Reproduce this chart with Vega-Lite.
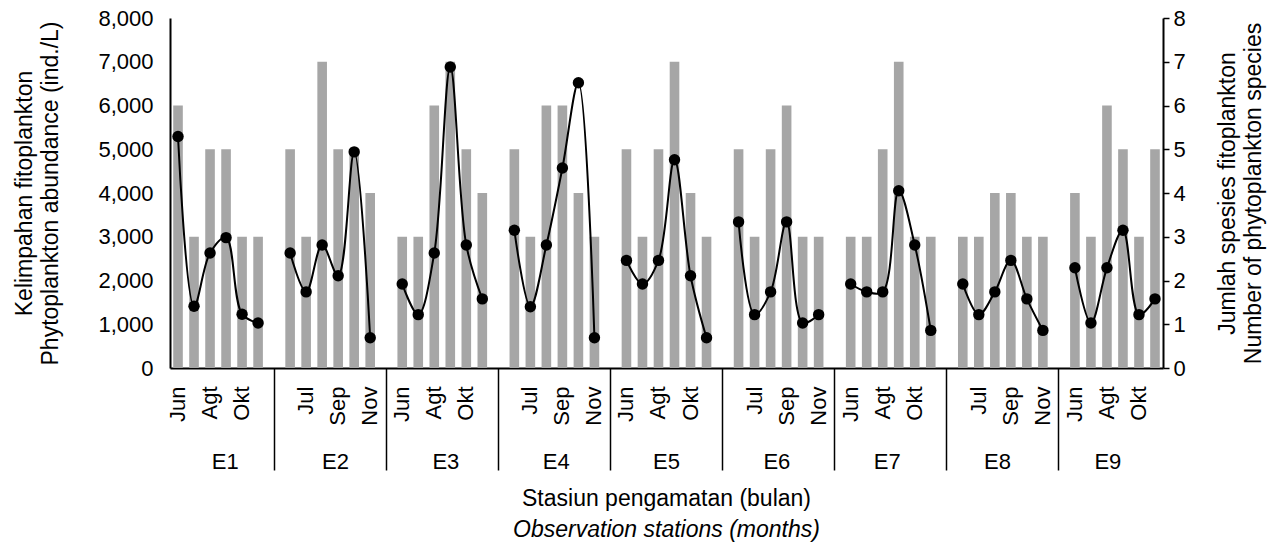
{
  "$schema": "https://vega.github.io/schema/vega-lite/v6.json",
  "width": 993,
  "height": 350,
  "autosize": {"type": "none"},
  "padding": {"left": 170, "top": 18, "right": 119, "bottom": 178},
  "background": "white",
  "config": {
    "font": "Liberation Sans",
    "view": {"stroke": null},
    "axis": {"labelColor": "black", "titleColor": "black", "labelFontSize": 22, "titleFontSize": 23, "titleFontWeight": "normal", "grid": false, "domainColor": "black", "tickColor": "black"}
  },
  "title": {
    "text": "Stasiun pengamatan (bulan)",
    "subtitle": "Observation stations (months)",
    "orient": "bottom",
    "anchor": "middle",
    "frame": "group",
    "fontSize": 23,
    "fontWeight": "normal",
    "color": "black",
    "subtitleFontSize": 23,
    "subtitleFontStyle": "italic",
    "subtitleColor": "black",
    "subtitlePadding": 8,
    "offset": 16
  },
  "data": {
    "values": [
      {"station": "E1", "month": "Jun", "slot": "E1 Jun", "species": 6, "abundance": 5290},
      {"station": "E1", "month": "Jul", "slot": "E1 Jul", "species": 3, "abundance": 1410},
      {"station": "E1", "month": "Agt", "slot": "E1 Agt", "species": 5, "abundance": 2630},
      {"station": "E1", "month": "Sep", "slot": "E1 Sep", "species": 5, "abundance": 2980},
      {"station": "E1", "month": "Okt", "slot": "E1 Okt", "species": 3, "abundance": 1230},
      {"station": "E1", "month": "Nov", "slot": "E1 Nov", "species": 3, "abundance": 1030},
      {"station": "E2", "month": "Jun", "slot": "E2 Jun", "species": 5, "abundance": 2630},
      {"station": "E2", "month": "Jul", "slot": "E2 Jul", "species": 3, "abundance": 1740},
      {"station": "E2", "month": "Agt", "slot": "E2 Agt", "species": 7, "abundance": 2810},
      {"station": "E2", "month": "Sep", "slot": "E2 Sep", "species": 5, "abundance": 2110},
      {"station": "E2", "month": "Okt", "slot": "E2 Okt", "species": 5, "abundance": 4940},
      {"station": "E2", "month": "Nov", "slot": "E2 Nov", "species": 4, "abundance": 690},
      {"station": "E3", "month": "Jun", "slot": "E3 Jun", "species": 3, "abundance": 1920},
      {"station": "E3", "month": "Jul", "slot": "E3 Jul", "species": 3, "abundance": 1220},
      {"station": "E3", "month": "Agt", "slot": "E3 Agt", "species": 6, "abundance": 2630},
      {"station": "E3", "month": "Sep", "slot": "E3 Sep", "species": 7, "abundance": 6880},
      {"station": "E3", "month": "Okt", "slot": "E3 Okt", "species": 5, "abundance": 2810},
      {"station": "E3", "month": "Nov", "slot": "E3 Nov", "species": 4, "abundance": 1580},
      {"station": "E4", "month": "Jun", "slot": "E4 Jun", "species": 5, "abundance": 3150},
      {"station": "E4", "month": "Jul", "slot": "E4 Jul", "species": 3, "abundance": 1400},
      {"station": "E4", "month": "Agt", "slot": "E4 Agt", "species": 6, "abundance": 2810},
      {"station": "E4", "month": "Sep", "slot": "E4 Sep", "species": 6, "abundance": 4570},
      {"station": "E4", "month": "Okt", "slot": "E4 Okt", "species": 4, "abundance": 6520},
      {"station": "E4", "month": "Nov", "slot": "E4 Nov", "species": 3, "abundance": 690},
      {"station": "E5", "month": "Jun", "slot": "E5 Jun", "species": 5, "abundance": 2460},
      {"station": "E5", "month": "Jul", "slot": "E5 Jul", "species": 3, "abundance": 1920},
      {"station": "E5", "month": "Agt", "slot": "E5 Agt", "species": 5, "abundance": 2460},
      {"station": "E5", "month": "Sep", "slot": "E5 Sep", "species": 7, "abundance": 4760},
      {"station": "E5", "month": "Okt", "slot": "E5 Okt", "species": 4, "abundance": 2110},
      {"station": "E5", "month": "Nov", "slot": "E5 Nov", "species": 3, "abundance": 690},
      {"station": "E6", "month": "Jun", "slot": "E6 Jun", "species": 5, "abundance": 3340},
      {"station": "E6", "month": "Jul", "slot": "E6 Jul", "species": 3, "abundance": 1220},
      {"station": "E6", "month": "Agt", "slot": "E6 Agt", "species": 5, "abundance": 1740},
      {"station": "E6", "month": "Sep", "slot": "E6 Sep", "species": 6, "abundance": 3340},
      {"station": "E6", "month": "Okt", "slot": "E6 Okt", "species": 3, "abundance": 1030},
      {"station": "E6", "month": "Nov", "slot": "E6 Nov", "species": 3, "abundance": 1220},
      {"station": "E7", "month": "Jun", "slot": "E7 Jun", "species": 3, "abundance": 1920},
      {"station": "E7", "month": "Jul", "slot": "E7 Jul", "species": 3, "abundance": 1740},
      {"station": "E7", "month": "Agt", "slot": "E7 Agt", "species": 5, "abundance": 1740},
      {"station": "E7", "month": "Sep", "slot": "E7 Sep", "species": 7, "abundance": 4050},
      {"station": "E7", "month": "Okt", "slot": "E7 Okt", "species": 3, "abundance": 2810},
      {"station": "E7", "month": "Nov", "slot": "E7 Nov", "species": 3, "abundance": 860},
      {"station": "E8", "month": "Jun", "slot": "E8 Jun", "species": 3, "abundance": 1920},
      {"station": "E8", "month": "Jul", "slot": "E8 Jul", "species": 3, "abundance": 1220},
      {"station": "E8", "month": "Agt", "slot": "E8 Agt", "species": 4, "abundance": 1740},
      {"station": "E8", "month": "Sep", "slot": "E8 Sep", "species": 4, "abundance": 2460},
      {"station": "E8", "month": "Okt", "slot": "E8 Okt", "species": 3, "abundance": 1580},
      {"station": "E8", "month": "Nov", "slot": "E8 Nov", "species": 3, "abundance": 860},
      {"station": "E9", "month": "Jun", "slot": "E9 Jun", "species": 4, "abundance": 2290},
      {"station": "E9", "month": "Jul", "slot": "E9 Jul", "species": 3, "abundance": 1030},
      {"station": "E9", "month": "Agt", "slot": "E9 Agt", "species": 6, "abundance": 2290},
      {"station": "E9", "month": "Sep", "slot": "E9 Sep", "species": 5, "abundance": 3150},
      {"station": "E9", "month": "Okt", "slot": "E9 Okt", "species": 3, "abundance": 1220},
      {"station": "E9", "month": "Nov", "slot": "E9 Nov", "species": 5, "abundance": 1580}
    ]
  },
  "layer": [
    {
      "mark": {"type": "bar", "color": "#a6a6a6"},
      "encoding": {
        "x": {
          "field": "slot",
          "type": "nominal",
          "scale": {
            "type": "band",
            "paddingInner": 0.4,
            "paddingOuter": 0.2,
            "domain": ["E1 Jun","E1 Jul","E1 Agt","E1 Sep","E1 Okt","E1 Nov","gap1","E2 Jun","E2 Jul","E2 Agt","E2 Sep","E2 Okt","E2 Nov","gap2","E3 Jun","E3 Jul","E3 Agt","E3 Sep","E3 Okt","E3 Nov","gap3","E4 Jun","E4 Jul","E4 Agt","E4 Sep","E4 Okt","E4 Nov","gap4","E5 Jun","E5 Jul","E5 Agt","E5 Sep","E5 Okt","E5 Nov","gap5","E6 Jun","E6 Jul","E6 Agt","E6 Sep","E6 Okt","E6 Nov","gap6","E7 Jun","E7 Jul","E7 Agt","E7 Sep","E7 Okt","E7 Nov","gap7","E8 Jun","E8 Jul","E8 Agt","E8 Sep","E8 Okt","E8 Nov","gap8","E9 Jun","E9 Jul","E9 Agt","E9 Sep","E9 Okt","E9 Nov"]
          },
          "axis": {
            "orient": "bottom",
            "title": null,
            "values": ["E1 Jun","E1 Agt","E1 Okt","gap1","E2 Jul","E2 Sep","E2 Nov","gap2","E3 Jun","E3 Agt","E3 Okt","gap3","E4 Jul","E4 Sep","E4 Nov","gap4","E5 Jun","E5 Agt","E5 Okt","gap5","E6 Jul","E6 Sep","E6 Nov","gap6","E7 Jun","E7 Agt","E7 Okt","gap7","E8 Jul","E8 Sep","E8 Nov","gap8","E9 Jun","E9 Agt","E9 Okt"],
            "labelExpr": "indexof(datum.value, 'gap') === 0 ? '' : split(datum.value, ' ')[1]",
            "labelAngle": -90,
            "labelFontSize": 22,
            "labelPadding": -84,
            "labelOverlap": false,
            "labelBound": false,
            "tickSize": 102,
            "tickWidth": 1.5,
            "tickColor": {"condition": {"test": "indexof(datum.value, 'gap') === 0", "value": "black"}, "value": "transparent"},
            "bandPosition": 0.5,
            "domainWidth": 2
          }
        },
        "y": {
          "field": "species",
          "type": "quantitative",
          "scale": {"domain": [0, 8], "nice": false},
          "axis": {
            "orient": "right",
            "values": [0, 1, 2, 3, 4, 5, 6, 7, 8],
            "title": ["Jumlah spesies fitoplankton", "Number of phytoplankton species"],
            "titleAngle": -90,
            "titleLineHeight": 26,
            "titlePadding": 28,
            "tickSize": 6,
            "tickWidth": 1.5,
            "labelPadding": 4,
            "domainWidth": 2
          }
        }
      }
    },
    {
      "mark": {"type": "line", "color": "black", "strokeWidth": 2, "interpolate": "catmull-rom", "point": {"filled": true, "color": "black", "size": 130, "opacity": 1}},
      "encoding": {
        "x": {
          "field": "slot",
          "type": "nominal",
          "sort": ["E1 Jun","E1 Jul","E1 Agt","E1 Sep","E1 Okt","E1 Nov","gap1","E2 Jun","E2 Jul","E2 Agt","E2 Sep","E2 Okt","E2 Nov","gap2","E3 Jun","E3 Jul","E3 Agt","E3 Sep","E3 Okt","E3 Nov","gap3","E4 Jun","E4 Jul","E4 Agt","E4 Sep","E4 Okt","E4 Nov","gap4","E5 Jun","E5 Jul","E5 Agt","E5 Sep","E5 Okt","E5 Nov","gap5","E6 Jun","E6 Jul","E6 Agt","E6 Sep","E6 Okt","E6 Nov","gap6","E7 Jun","E7 Jul","E7 Agt","E7 Sep","E7 Okt","E7 Nov","gap7","E8 Jun","E8 Jul","E8 Agt","E8 Sep","E8 Okt","E8 Nov","gap8","E9 Jun","E9 Jul","E9 Agt","E9 Sep","E9 Okt","E9 Nov"],
          "scale": {
            "type": "point",
            "padding": 0.5,
            "domain": ["E1 Jun","E1 Jul","E1 Agt","E1 Sep","E1 Okt","E1 Nov","gap1","E2 Jun","E2 Jul","E2 Agt","E2 Sep","E2 Okt","E2 Nov","gap2","E3 Jun","E3 Jul","E3 Agt","E3 Sep","E3 Okt","E3 Nov","gap3","E4 Jun","E4 Jul","E4 Agt","E4 Sep","E4 Okt","E4 Nov","gap4","E5 Jun","E5 Jul","E5 Agt","E5 Sep","E5 Okt","E5 Nov","gap5","E6 Jun","E6 Jul","E6 Agt","E6 Sep","E6 Okt","E6 Nov","gap6","E7 Jun","E7 Jul","E7 Agt","E7 Sep","E7 Okt","E7 Nov","gap7","E8 Jun","E8 Jul","E8 Agt","E8 Sep","E8 Okt","E8 Nov","gap8","E9 Jun","E9 Jul","E9 Agt","E9 Sep","E9 Okt","E9 Nov"]
          },
          "axis": null
        },
        "y": {
          "field": "abundance",
          "type": "quantitative",
          "scale": {"domain": [0, 8000], "nice": false},
          "axis": {
            "orient": "left",
            "values": [0, 1000, 2000, 3000, 4000, 5000, 6000, 7000, 8000],
            "format": ",.0f",
            "ticks": false,
            "labelPadding": 17,
            "title": ["Kelimpahan fitoplankton", "Phytoplankton abundance (ind./L)"],
            "titleLineHeight": 26,
            "titlePadding": 35,
            "domainWidth": 2
          }
        },
        "detail": {"field": "station", "type": "nominal"}
      }
    },
    {
      "mark": {"type": "point", "opacity": 0},
      "encoding": {
        "x": {
          "field": "station",
          "type": "nominal",
          "scale": {"type": "band", "paddingInner": 0, "paddingOuter": 0},
          "axis": {"orient": "bottom", "title": null, "offset": 83, "domain": false, "ticks": false, "labelPadding": 0, "labelAngle": 0, "labelFontSize": 22}
        }
      }
    }
  ],
  "resolve": {
    "scale": {"x": "independent", "y": "independent"},
    "axis": {"x": "independent", "y": "independent"}
  }
}
